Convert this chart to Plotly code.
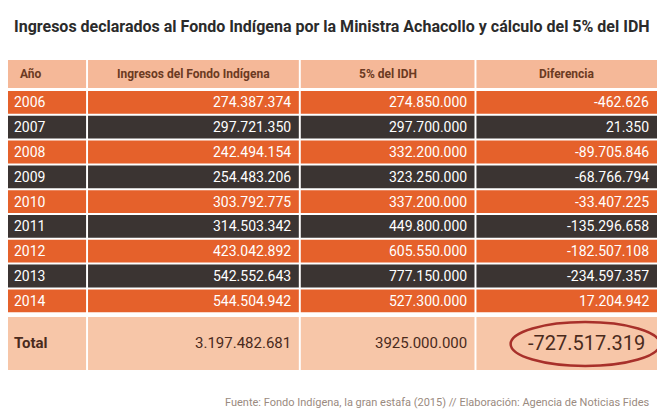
import plotly.graph_objects as go

years = ["2006", "2007", "2008", "2009", "2010", "2011", "2012", "2013", "2014"]
ingresos = ["274.387.374", "297.721.350", "242.494.154", "254.483.206", "303.792.775",
            "314.503.342", "423.042.892", "542.552.643", "544.504.942"]
idh = ["274.850.000", "297.700.000", "332.200.000", "323.250.000", "337.200.000",
       "449.800.000", "605.550.000", "777.150.000", "527.300.000"]
diferencia = ["-462.626", "21.350", "-89.705.846", "-68.766.794", "-33.407.225",
              "-135.296.658", "-182.507.108", "-234.597.357", "17.204.942"]
headers = ["Año", "Ingresos del Fondo Indígena", "5% del IDH", "Diferencia"]
total = ["Total", "3.197.482.681", "3925.000.000", "-727.517.319"]

FONT = "Liberation Sans Narrow, Arial Narrow, Roboto, sans-serif"
ORANGE = "#e5612b"
DARK = "#3b3432"
HEAD = "#f5b898"
TOT = "#f7c6a8"

cols = [(0, 80), (82, 298), (300, 478), (480, 665)]
shapes = []
ann = []

def cell(x0, x1, y0, y1, color):
    shapes.append(dict(type="rect", x0=x0, x1=x1, y0=y0, y1=y1, fillcolor=color,
                       line=dict(width=0), layer="below"))

def txt(x, y, s, color, size, anchor, bold=False):
    ann.append(dict(x=x, y=y, text=("<b>%s</b>" % s) if bold else s, showarrow=False,
                    xanchor=anchor, font=dict(family=FONT, size=size, color=color)))

# header
for i, (x0, x1) in enumerate(cols):
    cell(x0, x1, 52, 80, HEAD)
    if i == 0:
        txt(10, 66, headers[i], "#6b3a22", 12, "left", True)
    else:
        txt((x0 + x1) / 2, 66, headers[i], "#6b3a22", 12, "center", True)

# body rows
for r, yr in enumerate(years):
    y0 = 83 + r * 24.8
    y1 = y0 + 22.8
    yc = (y0 + y1) / 2
    color = ORANGE if r % 2 == 0 else DARK
    vals = [yr, ingresos[r], idh[r], diferencia[r]]
    for i, (x0, x1) in enumerate(cols):
        cell(x0, x1, y0, y1, color)
        if i == 0:
            txt(4, yc, vals[i], "white", 14, "left")
        else:
            txt(x1 - 6, yc, vals[i], "white", 14, "right")

# total row
for i, (x0, x1) in enumerate(cols):
    cell(x0, x1, 309, 362, TOT)
for i, (x0, x1) in enumerate(cols):
    if i == 0:
        txt(4, 335, total[i], "#4a2a1c", 15, "left", True)
    elif i == 3:
        txt(x1 - 10, 335, total[i], "#4a2a1c", 20, "right")
    else:
        txt(x1 - 6, 335, total[i], "#4a2a1c", 15, "right")
shapes.append(dict(type="circle", x0=515, x1=668, y0=314, y1=358,
                   line=dict(color="#a8302a", width=2.5)))

txt(332, 18, "<b>Ingresos declarados al Fondo Indígena por la Ministra Achacollo y cálculo del 5% del IDH</b>",
    "#2b2b2b", 16, "center")
txt(660, 394, "Fuente: Fondo Indígena, la gran estafa (2015) // Elaboración: Agencia de Noticias Fides",
    "#9a8a80", 11, "right")

fig = go.Figure()
fig.update_layout(autosize=True, height=410, margin=dict(l=0, r=0, t=0, b=0),
                  paper_bgcolor="white", plot_bgcolor="white",
                  xaxis=dict(range=[0, 665], visible=False, fixedrange=True),
                  yaxis=dict(range=[410, 0], visible=False, fixedrange=True),
                  shapes=shapes, annotations=ann, showlegend=False)
fig.write_html("out.html", config={"responsive": True})
